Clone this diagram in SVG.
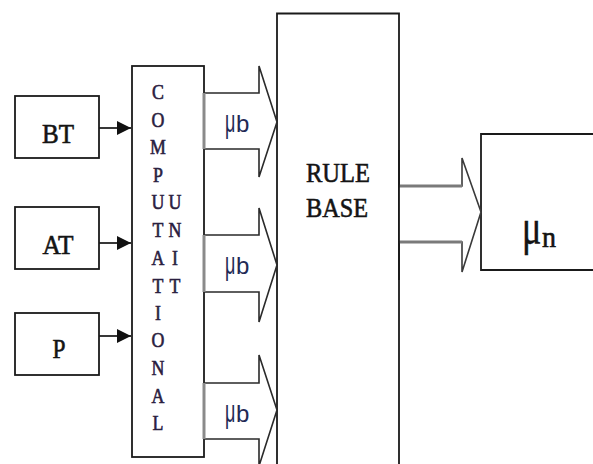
<svg xmlns="http://www.w3.org/2000/svg" width="593" height="464" viewBox="0 0 593 464">
  <defs>
    <marker id="head" viewBox="0 0 10 10" refX="10" refY="5" markerWidth="15" markerHeight="14" markerUnits="userSpaceOnUse" orient="auto">
      <path d="M0,0 L10,5 L0,10 Z" fill="#111"/>
    </marker>
    <style>
      .box { fill: #fff; stroke: #1a1a1a; stroke-width: 1.8; }
      .edge { fill: none; stroke: #1a1a1a; stroke-width: 1.8; }
      .link { fill: none; stroke: #222; stroke-width: 1.8; }
      .fat { fill: #fff; stroke: #2a2a2a; stroke-width: 1.6; stroke-linejoin: miter; }
      .fatback { fill: none; stroke: #8a8a8a; stroke-width: 3; }
      .lbl { font-family: "Liberation Serif", "Times New Roman", serif; fill: #141414; stroke: #141414; stroke-width: 0.6px; }
      .vert { font-family: "Liberation Serif", "Times New Roman", serif; font-size: 21px; fill: #2a2040; stroke: #2a2040; stroke-width: 0.6px; text-anchor: middle; }
      .mu { font-family: "Liberation Sans", Arial, sans-serif; font-size: 24px; fill: #222a55; }
    </style>
  </defs>

  <!-- connectors -->
  <g id="connectors">
    <!-- input links -->
    <line class="link" x1="99" y1="128" x2="131" y2="128" marker-end="url(#head)"/>
    <line class="link" x1="99" y1="243" x2="131" y2="243" marker-end="url(#head)"/>
    <line class="link" x1="99" y1="336" x2="131" y2="336" marker-end="url(#head)"/>
  </g>

  <!-- input nodes -->
  <g id="node-bt">
    <rect class="box" x="15" y="96" width="84" height="62"/>
    <text class="lbl" x="58" y="143" font-size="27" text-anchor="middle" textLength="32" lengthAdjust="spacingAndGlyphs">BT</text>
  </g>
  <g id="node-at">
    <rect class="box" x="15" y="207" width="84" height="62"/>
    <text class="lbl" x="58" y="254" font-size="27" text-anchor="middle" textLength="31" lengthAdjust="spacingAndGlyphs">AT</text>
  </g>
  <g id="node-p">
    <rect class="box" x="15" y="313" width="84" height="62"/>
    <text class="lbl" x="59" y="358" font-size="27" text-anchor="middle" textLength="13" lengthAdjust="spacingAndGlyphs">P</text>
  </g>

  <!-- computational unit -->
  <g id="node-computational-unit">
    <rect class="box" x="132" y="66" width="72" height="391"/>
    <g transform="translate(158,0) scale(0.85,1)">
      <text class="vert" x="0" y="99">C</text>
      <text class="vert" x="0" y="127">O</text>
      <text class="vert" x="0" y="154">M</text>
      <text class="vert" x="0" y="182">P</text>
      <text class="vert" x="0" y="209">U</text>
      <text class="vert" x="0" y="237">T</text>
      <text class="vert" x="0" y="265">A</text>
      <text class="vert" x="0" y="293">T</text>
      <text class="vert" x="0" y="320">I</text>
      <text class="vert" x="0" y="347">O</text>
      <text class="vert" x="0" y="375">N</text>
      <text class="vert" x="0" y="403">A</text>
      <text class="vert" x="0" y="430">L</text>
    </g>
    <g transform="translate(175,0) scale(0.85,1)">
      <text class="vert" x="0" y="209">U</text>
      <text class="vert" x="0" y="237">N</text>
      <text class="vert" x="0" y="265">I</text>
      <text class="vert" x="0" y="293">T</text>
    </g>
  </g>

  <!-- rule base -->
  <g id="node-rule-base">
    <path class="box" d="M277,470 V13.5 H399 V470"/>
    <text class="lbl" x="338" y="182" font-size="28" text-anchor="middle" textLength="64" lengthAdjust="spacingAndGlyphs">RULE</text>
    <text class="lbl" x="337" y="217" font-size="28" text-anchor="middle" textLength="62" lengthAdjust="spacingAndGlyphs">BASE</text>
  </g>

  <!-- output -->
  <g id="node-output">
    <path class="box" d="M600,134 H481 V270 H600"/>
    <text class="lbl" transform="translate(522,244) scale(0.95,1.35)" font-size="38" style="stroke-width:0.4px">μ</text>
    <text class="lbl" x="542" y="247" font-size="30" textLength="14" lengthAdjust="spacingAndGlyphs">n</text>
  </g>

  <!-- block arrows carrying membership values -->
  <g id="block-arrows">
    <g id="arrow-mu-b-1">
      <path class="fat" d="M204,93 H259 V66 L277,122 L259,177 V149 H204"/>
      <line class="fatback" x1="204" y1="93" x2="204" y2="149"/>
      <text class="mu" transform="translate(225,132) scale(0.75,1.3)">μ</text>
      <text class="mu" x="236" y="132">b</text>
    </g>
    <g id="arrow-mu-b-2">
      <path class="fat" d="M204,235 H259 V208 L277,265 L259,322 V292 H204"/>
      <line class="fatback" x1="204" y1="235" x2="204" y2="292"/>
      <text class="mu" transform="translate(225,274) scale(0.75,1.3)">μ</text>
      <text class="mu" x="236" y="274">b</text>
    </g>
    <g id="arrow-mu-b-3">
      <path class="fat" d="M204,383 H259 V355 L277,410 L259,466 V439 H204"/>
      <line class="fatback" x1="204" y1="383" x2="204" y2="439"/>
      <text class="mu" transform="translate(225,422) scale(0.75,1.3)">μ</text>
      <text class="mu" x="236" y="422">b</text>
    </g>
    <g id="arrow-mu-n">
      <path class="fat" d="M399,186 H462 V158 L481,212 L462,272 V242 H399" style="stroke:#3a3a3a"/>
      <line x1="399" y1="186" x2="462" y2="186" stroke="#7a7a7a" stroke-width="3"/>
      <line x1="399" y1="242" x2="462" y2="242" stroke="#7a7a7a" stroke-width="3"/>
      <line class="edge" x1="399" y1="150" x2="399" y2="280"/>
    </g>
  </g>
</svg>
